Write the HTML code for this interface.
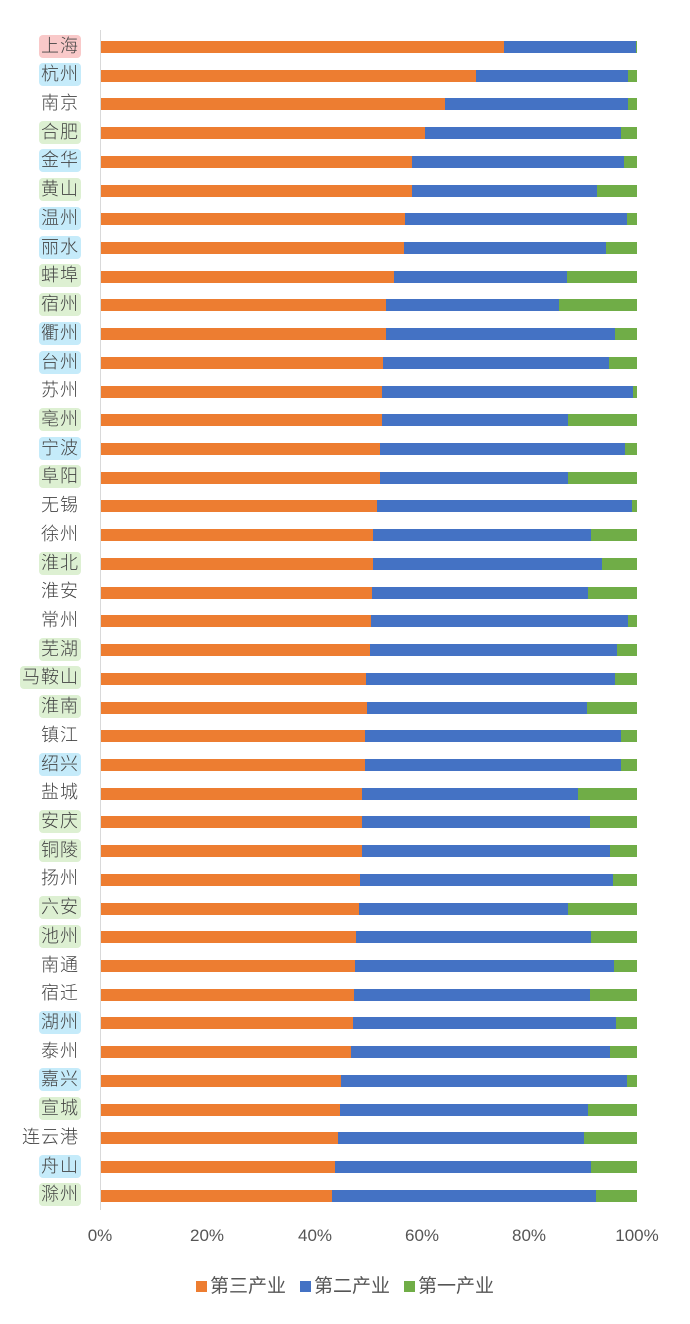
<!DOCTYPE html>
<html><head><meta charset="utf-8"><style>
body{margin:0;width:690px;height:1324px;background:#fff;position:relative;overflow:hidden;font-family:"Liberation Sans","Noto Sans CJK SC",sans-serif;}
#rows{position:absolute;left:0;top:32.6px;width:690px;}
.r{position:relative;height:28.725px;}
.l{position:absolute;right:609px;top:2px;font-size:18px;line-height:23px;color:#444;padding:0 2px;border-radius:4px;white-space:nowrap;letter-spacing:1px;font-weight:300}
.p{background:#f9c9c9}.c{background:#c5ebfa}.n{background:#ddf0d2}
.r i{position:absolute;top:8.4px;height:12px;}
.o{left:101px;background:#ed7d31}.b{background:#4472c4}.g{background:#70ad47}
#ax{position:absolute;left:100px;top:30px;width:1px;height:1180px;background:#d9d9d9}
.t{position:absolute;top:1226px;font-size:17px;color:#555;transform:translateX(-50%)}
#lg{position:absolute;top:1271px;left:0;width:690px;text-align:center;font-size:19px;color:#555}
#lg span{display:inline-block;margin:0 7px}
#lg b{display:inline-block;width:11px;height:11px;margin-right:3px;vertical-align:0}
</style></head><body>
<div id="ax"></div>
<div id="rows">
<div class="r"><span class="l p">上海</span><i class="o" style="width:403px"></i><i class="b" style="left:504px;width:132px"></i><i class="g" style="left:636px;width:1px"></i></div>
<div class="r"><span class="l c">杭州</span><i class="o" style="width:375px"></i><i class="b" style="left:476px;width:152px"></i><i class="g" style="left:628px;width:9px"></i></div>
<div class="r"><span class="l">南京</span><i class="o" style="width:344px"></i><i class="b" style="left:445px;width:183px"></i><i class="g" style="left:628px;width:9px"></i></div>
<div class="r"><span class="l n">合肥</span><i class="o" style="width:324px"></i><i class="b" style="left:425px;width:196px"></i><i class="g" style="left:621px;width:16px"></i></div>
<div class="r"><span class="l c">金华</span><i class="o" style="width:311px"></i><i class="b" style="left:412px;width:212px"></i><i class="g" style="left:624px;width:13px"></i></div>
<div class="r"><span class="l n">黄山</span><i class="o" style="width:311px"></i><i class="b" style="left:412px;width:185px"></i><i class="g" style="left:597px;width:40px"></i></div>
<div class="r"><span class="l c">温州</span><i class="o" style="width:304px"></i><i class="b" style="left:405px;width:222px"></i><i class="g" style="left:627px;width:10px"></i></div>
<div class="r"><span class="l c">丽水</span><i class="o" style="width:303px"></i><i class="b" style="left:404px;width:202px"></i><i class="g" style="left:606px;width:31px"></i></div>
<div class="r"><span class="l n">蚌埠</span><i class="o" style="width:293px"></i><i class="b" style="left:394px;width:173px"></i><i class="g" style="left:567px;width:70px"></i></div>
<div class="r"><span class="l n">宿州</span><i class="o" style="width:285px"></i><i class="b" style="left:386px;width:173px"></i><i class="g" style="left:559px;width:78px"></i></div>
<div class="r"><span class="l c">衢州</span><i class="o" style="width:285px"></i><i class="b" style="left:386px;width:229px"></i><i class="g" style="left:615px;width:22px"></i></div>
<div class="r"><span class="l c">台州</span><i class="o" style="width:282px"></i><i class="b" style="left:383px;width:226px"></i><i class="g" style="left:609px;width:28px"></i></div>
<div class="r"><span class="l">苏州</span><i class="o" style="width:281px"></i><i class="b" style="left:382px;width:251px"></i><i class="g" style="left:633px;width:4px"></i></div>
<div class="r"><span class="l n">亳州</span><i class="o" style="width:281px"></i><i class="b" style="left:382px;width:186px"></i><i class="g" style="left:568px;width:69px"></i></div>
<div class="r"><span class="l c">宁波</span><i class="o" style="width:279px"></i><i class="b" style="left:380px;width:245px"></i><i class="g" style="left:625px;width:12px"></i></div>
<div class="r"><span class="l n">阜阳</span><i class="o" style="width:279px"></i><i class="b" style="left:380px;width:188px"></i><i class="g" style="left:568px;width:69px"></i></div>
<div class="r"><span class="l">无锡</span><i class="o" style="width:276px"></i><i class="b" style="left:377px;width:255px"></i><i class="g" style="left:632px;width:5px"></i></div>
<div class="r"><span class="l">徐州</span><i class="o" style="width:272px"></i><i class="b" style="left:373px;width:218px"></i><i class="g" style="left:591px;width:46px"></i></div>
<div class="r"><span class="l n">淮北</span><i class="o" style="width:272px"></i><i class="b" style="left:373px;width:229px"></i><i class="g" style="left:602px;width:35px"></i></div>
<div class="r"><span class="l">淮安</span><i class="o" style="width:271px"></i><i class="b" style="left:372px;width:216px"></i><i class="g" style="left:588px;width:49px"></i></div>
<div class="r"><span class="l">常州</span><i class="o" style="width:270px"></i><i class="b" style="left:371px;width:257px"></i><i class="g" style="left:628px;width:9px"></i></div>
<div class="r"><span class="l n">芜湖</span><i class="o" style="width:269px"></i><i class="b" style="left:370px;width:247px"></i><i class="g" style="left:617px;width:20px"></i></div>
<div class="r"><span class="l n">马鞍山</span><i class="o" style="width:265px"></i><i class="b" style="left:366px;width:249px"></i><i class="g" style="left:615px;width:22px"></i></div>
<div class="r"><span class="l n">淮南</span><i class="o" style="width:266px"></i><i class="b" style="left:367px;width:220px"></i><i class="g" style="left:587px;width:50px"></i></div>
<div class="r"><span class="l">镇江</span><i class="o" style="width:264px"></i><i class="b" style="left:365px;width:256px"></i><i class="g" style="left:621px;width:16px"></i></div>
<div class="r"><span class="l c">绍兴</span><i class="o" style="width:264px"></i><i class="b" style="left:365px;width:256px"></i><i class="g" style="left:621px;width:16px"></i></div>
<div class="r"><span class="l">盐城</span><i class="o" style="width:261px"></i><i class="b" style="left:362px;width:216px"></i><i class="g" style="left:578px;width:59px"></i></div>
<div class="r"><span class="l n">安庆</span><i class="o" style="width:261px"></i><i class="b" style="left:362px;width:228px"></i><i class="g" style="left:590px;width:47px"></i></div>
<div class="r"><span class="l n">铜陵</span><i class="o" style="width:261px"></i><i class="b" style="left:362px;width:248px"></i><i class="g" style="left:610px;width:27px"></i></div>
<div class="r"><span class="l">扬州</span><i class="o" style="width:259px"></i><i class="b" style="left:360px;width:253px"></i><i class="g" style="left:613px;width:24px"></i></div>
<div class="r"><span class="l n">六安</span><i class="o" style="width:258px"></i><i class="b" style="left:359px;width:209px"></i><i class="g" style="left:568px;width:69px"></i></div>
<div class="r"><span class="l n">池州</span><i class="o" style="width:255px"></i><i class="b" style="left:356px;width:235px"></i><i class="g" style="left:591px;width:46px"></i></div>
<div class="r"><span class="l">南通</span><i class="o" style="width:254px"></i><i class="b" style="left:355px;width:259px"></i><i class="g" style="left:614px;width:23px"></i></div>
<div class="r"><span class="l">宿迁</span><i class="o" style="width:253px"></i><i class="b" style="left:354px;width:236px"></i><i class="g" style="left:590px;width:47px"></i></div>
<div class="r"><span class="l c">湖州</span><i class="o" style="width:252px"></i><i class="b" style="left:353px;width:263px"></i><i class="g" style="left:616px;width:21px"></i></div>
<div class="r"><span class="l">泰州</span><i class="o" style="width:250px"></i><i class="b" style="left:351px;width:259px"></i><i class="g" style="left:610px;width:27px"></i></div>
<div class="r"><span class="l c">嘉兴</span><i class="o" style="width:240px"></i><i class="b" style="left:341px;width:286px"></i><i class="g" style="left:627px;width:10px"></i></div>
<div class="r"><span class="l n">宣城</span><i class="o" style="width:239px"></i><i class="b" style="left:340px;width:248px"></i><i class="g" style="left:588px;width:49px"></i></div>
<div class="r"><span class="l">连云港</span><i class="o" style="width:237px"></i><i class="b" style="left:338px;width:246px"></i><i class="g" style="left:584px;width:53px"></i></div>
<div class="r"><span class="l c">舟山</span><i class="o" style="width:234px"></i><i class="b" style="left:335px;width:256px"></i><i class="g" style="left:591px;width:46px"></i></div>
<div class="r"><span class="l n">滁州</span><i class="o" style="width:231px"></i><i class="b" style="left:332px;width:264px"></i><i class="g" style="left:596px;width:41px"></i></div>
</div>
<div class="t" style="left:100px">0%</div>
<div class="t" style="left:207px">20%</div>
<div class="t" style="left:315px">40%</div>
<div class="t" style="left:422px">60%</div>
<div class="t" style="left:529px">80%</div>
<div class="t" style="left:637px">100%</div>
<div id="lg"><span><b style="background:#ed7d31"></b>第三产业</span><span><b style="background:#4472c4"></b>第二产业</span><span><b style="background:#70ad47"></b>第一产业</span></div>
</body></html>
